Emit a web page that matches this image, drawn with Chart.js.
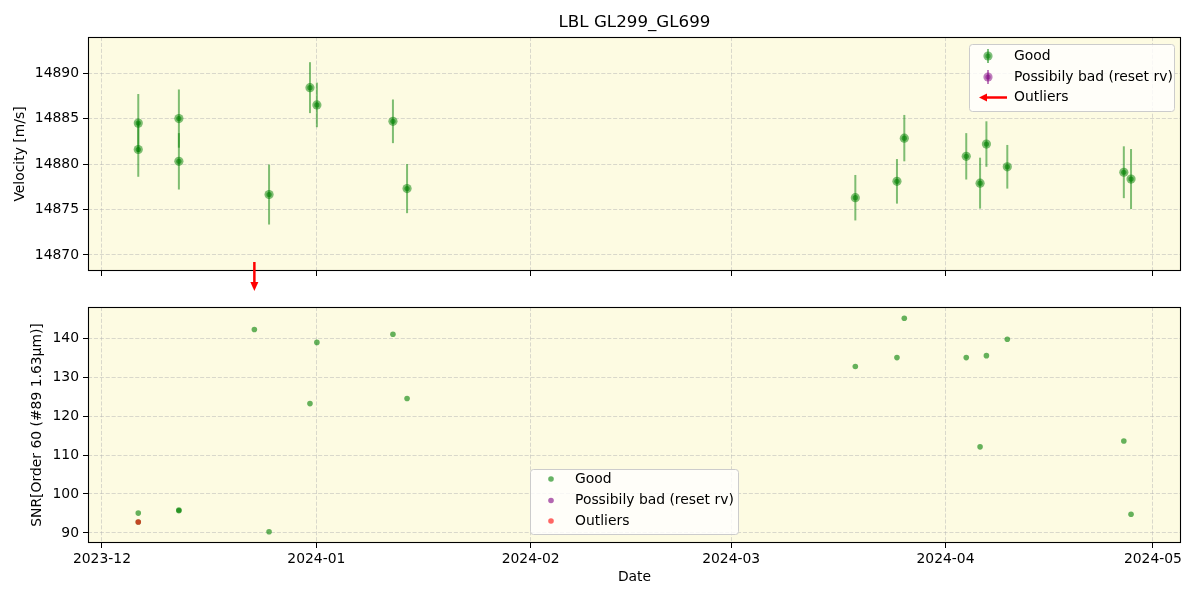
<!DOCTYPE html>
<html><head><meta charset="utf-8">
<script src="https://cdn.jsdelivr.net/npm/chart.js@4/dist/chart.umd.min.js"></script>
<style>
html,body{margin:0;padding:0;background:#fff;}
#wrap{position:relative;width:1200px;height:600px;overflow:hidden;}
canvas{position:absolute;left:0;}
#c1{top:0;} #c2{top:290px;}
</style></head><body>
<div id="wrap"><canvas id="c2" width="1200" height="310"></canvas><canvas id="c1" width="1200" height="300"></canvas></div>
<script>
// ---------------- data ----------------
const chartTitle = 'LBL GL299_GL699';
const rvDates = ['2023-12-06T06:00Z','2023-12-06T06:00Z','2023-12-12T03:00Z','2023-12-12T03:00Z','2023-12-25T04:00Z',
  '2023-12-31T02:00Z','2024-01-01T02:00Z','2024-01-12T02:00Z','2024-01-14T03:00Z','2024-03-18T23:00Z',
  '2024-03-24T23:30Z','2024-03-26T01:00Z','2024-04-04T00:00Z','2024-04-06T00:00Z','2024-04-06T22:00Z',
  '2024-04-09T22:30Z','2024-04-26T19:00Z','2024-04-27T20:00Z'];
const rvValues = [14884.5,14881.6,14885.0,14880.3,14876.65,14888.4,14886.5,14884.7,14877.3,14876.3,
  14878.1,14882.85,14880.85,14877.9,14882.2,14879.7,14879.1,14878.35];
const rvErrors = [3.2,3.0,3.2,3.1,3.3,2.8,2.45,2.4,2.7,2.5,2.45,2.55,2.55,2.8,2.5,2.4,2.85,3.3];
const rvOutlierDates = ['2023-12-23T01:00Z'];
const snrDates = ['2023-12-06T06:00Z','2023-12-06T06:00Z','2023-12-12T03:00Z','2023-12-12T03:00Z','2023-12-23T01:00Z',
  '2023-12-25T04:00Z','2023-12-31T02:00Z','2024-01-01T02:00Z','2024-01-12T02:00Z','2024-01-14T03:00Z',
  '2024-03-18T23:00Z','2024-03-24T23:30Z','2024-03-26T01:00Z','2024-04-04T00:00Z','2024-04-06T00:00Z',
  '2024-04-06T22:00Z','2024-04-09T22:30Z','2024-04-26T19:00Z','2024-04-27T20:00Z'];
const snrValues = [95.1,92.8,95.7,95.9,142.2,90.3,123.2,138.9,141.0,124.5,132.7,135.0,145.1,135.0,112.1,135.5,139.7,113.6,94.8];
const snrOutlierDates = ['2023-12-06T06:00Z'];
const snrOutlierValues = [92.8];
const monthTicks = ['2023-12-01T00:00Z','2024-01-01T00:00Z','2024-02-01T00:00Z','2024-03-01T00:00Z','2024-04-01T00:00Z','2024-05-01T00:00Z'];
const rvTicks = [14870,14875,14880,14885,14890];
const snrTicks = [90,100,110,120,130,140];
const legendLabels = ['Good','Possibily bad (reset rv)','Outliers'];
const xTitle = 'Date';
const rvTitle = 'Velocity [m/s]';
const snrTitle = 'SNR[Order 60 (#89 1.63\u03bcm)]';

// ---------------- styles ----------------
const DAY = 86400000;
const xMin = Date.parse('2023-12-01T00:00Z') - 2.02 * DAY;
const xMax = Date.parse('2023-12-01T00:00Z') + 156.06 * DAY;
const FONT = 'DejaVu Sans';
const GREEN = 'rgba(0,128,0,0.5)';
const GREEN6 = 'rgba(0,128,0,0.6)';
const PURPLE = 'rgba(128,0,128,0.6)';
const RED6 = 'rgba(255,0,0,0.6)';
const BG = '#fdfbe2';
Chart.defaults.font.family = FONT;
Chart.defaults.color = '#000';
Chart.defaults.animation = false;

function fmtMonth(v) {
  const d = new Date(v);
  return d.getUTCFullYear() + '-' + String(d.getUTCMonth() + 1).padStart(2, '0');
}

const gridOpts = {
  color: 'rgba(176,176,176,0.6)', lineWidth: 0.8, borderDash: [4.1, 1.8],
  drawTicks: true, tickLength: 5, tickColor: '#000', tickWidth: 1, tickBorderDash: []
};
const borderOpts = { display: false, dash: [4.1, 1.8] };

function xScale(showLabels, height) {
  return {
    type: 'linear', min: xMin, max: xMax,
    afterBuildTicks: s => { s.ticks = monthTicks.map(m => ({ value: Date.parse(m) })); },
    afterFit: s => { s.height = height; },
    ticks: { autoSkip: false, maxRotation: 0, minRotation: 0, padding: 3,
      font: { size: 13.9 }, callback: v => showLabels ? fmtMonth(v) : '' },
    grid: gridOpts, border: borderOpts,
    title: showLabels ? { display: true, text: xTitle, font: { size: 13.9 }, padding: { top: 0, bottom: 14.6 } } : { display: false }
  };
}
function yScale(min, max, ticks, title, titlePad) {
  return {
    type: 'linear', min: min, max: max,
    afterBuildTicks: s => { s.ticks = ticks.map(v => ({ value: v })); },
    afterFit: s => { s.width = 88; },
    ticks: { padding: 4, font: { size: 13.9 }, callback: v => String(v) },
    grid: gridOpts, border: borderOpts,
    title: { display: true, text: title, font: { size: 13.9 }, padding: { top: titlePad, bottom: 0 } }
  };
}

const panelPlugin = {
  id: 'panel',
  beforeDraw(chart, args, o) {
    const a = chart.chartArea, c = chart.ctx;
    c.save(); c.fillStyle = BG; c.fillRect(a.left, a.top, a.right - a.left, a.bottom - a.top); c.restore();
  },
  beforeDatasetsDraw(chart, args, o) {
    if (!o.errors) return;
    const c = chart.ctx, xs = chart.scales.x, ys = chart.scales.y, a = chart.chartArea;
    c.save();
    c.beginPath(); c.rect(a.left, a.top, a.right - a.left, a.bottom - a.top); c.clip();
    c.strokeStyle = GREEN; c.lineWidth = 2;
    rvDates.forEach((d, i) => {
      const x = xs.getPixelForValue(Date.parse(d));
      c.beginPath();
      c.moveTo(x, ys.getPixelForValue(rvValues[i] + rvErrors[i]));
      c.lineTo(x, ys.getPixelForValue(rvValues[i] - rvErrors[i]));
      c.stroke();
    });
    c.restore();
  },
  afterDraw(chart, args, o) {
    const a = chart.chartArea, c = chart.ctx;
    c.save();
    c.strokeStyle = '#000'; c.lineWidth = 1.1;
    c.strokeRect(Math.round(a.left) + 0.5, Math.round(a.top) + 0.5, Math.round(a.right - a.left) - 1, Math.round(a.bottom - a.top) - 1);
    // title
    if (o.title) {
      c.fillStyle = '#000'; c.font = '16.7px "' + FONT + '"'; c.textAlign = 'center'; c.textBaseline = 'middle';
      c.fillText(o.title, (a.left + a.right) / 2, 23);
    }
    // outlier arrows
    if (o.arrows) {
      const xs = chart.scales.x;
      c.strokeStyle = 'red'; c.fillStyle = 'red'; c.lineWidth = 2.5;
      rvOutlierDates.forEach(d => {
        const x = xs.getPixelForValue(Date.parse(d));
        c.beginPath(); c.moveTo(x, a.bottom - 9); c.lineTo(x, a.bottom + 12); c.stroke();
        c.beginPath(); c.moveTo(x - 4, a.bottom + 11); c.lineTo(x + 4, a.bottom + 11); c.lineTo(x, a.bottom + 20); c.closePath(); c.fill();
      });
    }
    // legend
    const L = o.legend;
    if (L) {
      c.beginPath(); c.roundRect(L.x, L.y, L.w, L.h, 3);
      c.fillStyle = 'rgba(255,255,255,0.8)'; c.fill();
      c.strokeStyle = '#cccccc'; c.lineWidth = 1; c.stroke();
      c.font = '13.9px "' + FONT + '"'; c.textAlign = 'left'; c.textBaseline = 'middle';
      legendLabels.forEach((lab, i) => {
        const y = L.rows[i], hx = L.hx;
        if (L.kind === 'err') {
          if (i < 2) {
            const col = i === 0 ? GREEN : 'rgba(128,0,128,0.5)';
            c.strokeStyle = col; c.lineWidth = 2;
            c.beginPath(); c.moveTo(hx, y - 7); c.lineTo(hx, y + 7); c.stroke();
            c.fillStyle = col;
            c.beginPath(); c.arc(hx, y, 4.6, 0, Math.PI * 2); c.fill();
            c.beginPath(); c.arc(hx, y, 2.6, 0, Math.PI * 2); c.fill();
          } else {
            c.strokeStyle = 'red'; c.fillStyle = 'red'; c.lineWidth = 2.5;
            c.beginPath(); c.moveTo(hx + 19, y); c.lineTo(hx - 2, y); c.stroke();
            c.beginPath(); c.moveTo(hx - 1, y - 4); c.lineTo(hx - 1, y + 4); c.lineTo(hx - 9, y); c.closePath(); c.fill();
          }
        } else {
          c.fillStyle = [GREEN6, PURPLE, RED6][i];
          c.beginPath(); c.arc(hx, y, 2.8, 0, Math.PI * 2); c.fill();
        }
        c.fillStyle = '#000';
        c.fillText(lab, L.tx, y);
      });
    }
    c.restore();
  }
};

const pts = (ds, vs) => ds.map((d, i) => ({ x: Date.parse(d), y: vs[i] }));

new Chart(document.getElementById('c1'), {
  type: 'scatter',
  plugins: [panelPlugin],
  data: { datasets: [
    { label: legendLabels[0], data: pts(rvDates, rvValues), pointRadius: 4.6, pointHoverRadius: 4.6,
      backgroundColor: GREEN, borderWidth: 0, order: 2 },
    { label: legendLabels[0] + ' core', data: pts(rvDates, rvValues), pointRadius: 2.6, pointHoverRadius: 2.6,
      backgroundColor: GREEN6, borderWidth: 0, order: 1 },
    { label: legendLabels[1], data: [], backgroundColor: 'rgba(128,0,128,0.5)', pointRadius: 4.6, order: 0 }
  ] },
  options: {
    responsive: false, devicePixelRatio: 1, events: [],
    layout: { padding: { top: 37, right: 19, left: 0, bottom: 0 } },
    scales: { x: xScale(false, 29), y: yScale(14868.24, 14893.97, rvTicks, rvTitle, 11.6) },
    plugins: { legend: { display: false }, tooltip: { enabled: false },
      panel: { title: chartTitle, errors: true, arrows: true,
        legend: { kind: 'err', x: 969.5, y: 44.5, w: 205, h: 67, rows: [56, 77, 97.5], hx: 988, tx: 1014 } } }
  }
});

new Chart(document.getElementById('c2'), {
  type: 'scatter',
  plugins: [panelPlugin],
  data: { datasets: [
    { label: legendLabels[0], data: pts(snrDates, snrValues), pointRadius: 2.8, pointHoverRadius: 2.8,
      backgroundColor: GREEN6, borderWidth: 0, order: 2 },
    { label: legendLabels[1], data: [], backgroundColor: PURPLE, pointRadius: 2.8, order: 1 },
    { label: legendLabels[2], data: pts(snrOutlierDates, snrOutlierValues), pointRadius: 2.8, pointHoverRadius: 2.8,
      backgroundColor: RED6, borderWidth: 0, order: 0 }
  ] },
  options: {
    responsive: false, devicePixelRatio: 1, events: [],
    layout: { padding: { top: 17, right: 19, left: 0, bottom: 0 } },
    scales: { x: xScale(true, 57), y: yScale(87.42, 147.99, snrTicks, snrTitle, 28.6) },
    plugins: { legend: { display: false }, tooltip: { enabled: false },
      panel: { legend: { kind: 'dot', x: 530.5, y: 179.5, w: 208, h: 65, rows: [189, 210.5, 231], hx: 551, tx: 575 } } }
  }
});
</script>
</body></html>
